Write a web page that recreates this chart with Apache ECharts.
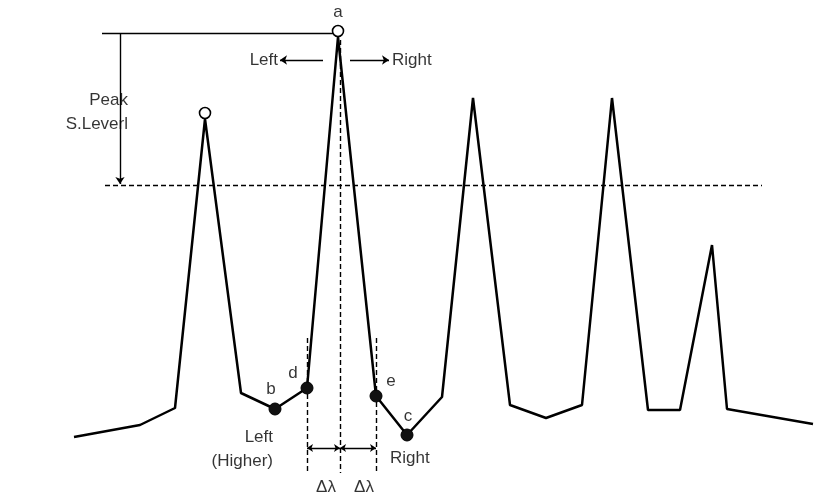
<!DOCTYPE html>
<html>
<head>
<meta charset="utf-8">
<script src="https://cdn.jsdelivr.net/npm/echarts@6/dist/echarts.min.js"></script>
<style>html,body{margin:0;padding:0;background:#fff}#c{width:815px;height:500px}</style>
</head>
<body>
<div id="c"></div>
<script>
// Spectrum trace (x = wavelength position, y = signal level)
var wavelength = [74, 140, 175, 205, 241, 275, 307, 338, 376, 407, 442, 473, 510, 546, 582, 612, 648, 680, 712, 727, 813];
var level      = [63, 75, 92, 381, 107, 91, 112, 463, 104, 65, 103, 402, 95, 82, 95, 402, 90, 90, 255, 91, 76];

// Peak markers (open circles) and sample points (filled)
var peakPts   = [[205, 381], [338, 463]];
var samplePts = [[275, 91, 'b'], [307, 112, 'd'], [376, 104, 'e'], [407, 65, 'c']];

var threshold = 315;     // dashed threshold level
var peakLevel = 467;     // top reference line
var deltaLeft = 307, center = 340, deltaRight = 376;

// Text annotations [x, y, text, align]
var texts = [
  [338, 488, 'a', 'center'],
  [128, 400, 'Peak', 'right'],
  [128, 376, 'S.Leverl', 'right'],
  [278, 440, 'Left', 'right'],
  [392, 440, 'Right', 'left'],
  [271, 111, 'b', 'center'],
  [293, 127, 'd', 'center'],
  [391, 119, 'e', 'center'],
  [408, 84, 'c', 'center'],
  [273, 63, 'Left', 'right'],
  [273, 39, '(Higher)', 'right'],
  [390, 42, 'Right', 'left'],
  [326, 13, '\u0394\u03bb', 'center'],
  [364, 13, '\u0394\u03bb', 'center']
];

var chart = echarts.init(document.getElementById('c'));
var solid = {color: '#000', width: 1.4, type: 'solid', opacity: 1};
var dashed = {color: '#000', width: 1.4, type: [5, 3], opacity: 1};
function seg(a, b) { return {coords: [a, b]}; }

chart.setOption({
  animation: false,
  backgroundColor: '#fff',
  grid: {left: 0, right: 0, top: 0, bottom: 0},
  xAxis: {type: 'value', min: 0, max: 815, show: false},
  yAxis: {type: 'value', min: 0, max: 500, show: false},
  series: [
    {
      type: 'line',
      data: wavelength.map(function (x, i) { return [x, level[i]]; }),
      symbol: 'none',
      lineStyle: {color: '#000', width: 2.5},
      z: 5
    },
    {
      type: 'lines', coordinateSystem: 'cartesian2d', symbol: 'none',
      lineStyle: dashed,
      data: [
        seg([105, threshold], [762, threshold]),
        seg([center, 460], [center, 27]),
        seg([deltaLeft, 162], [deltaLeft, 27]),
        seg([deltaRight, 162], [deltaRight, 27])
      ], z: 3
    },
    {
      type: 'lines', coordinateSystem: 'cartesian2d', symbol: 'none',
      lineStyle: solid,
      data: [seg([102, peakLevel], [334, peakLevel])], z: 3
    },
    {
      type: 'lines', coordinateSystem: 'cartesian2d', symbol: ['none', 'arrow'], symbolSize: 7,
      lineStyle: solid,
      data: [
        seg([120, peakLevel], [120, threshold + 1]),
        seg([323, 440], [280, 440]),
        seg([350, 440], [389, 440])
      ], z: 3
    },
    {
      type: 'lines', coordinateSystem: 'cartesian2d', symbol: ['arrow', 'arrow'], symbolSize: 6,
      lineStyle: solid,
      data: [
        seg([deltaLeft, 52], [center, 52]),
        seg([center, 52], [deltaRight, 52])
      ], z: 3
    },
    {
      type: 'scatter', data: peakPts, symbol: 'circle', symbolSize: 11,
      symbolOffset: [0, -6],
      itemStyle: {color: '#fff', borderColor: '#000', borderWidth: 1.6, opacity: 1}, z: 6
    },
    {
      type: 'scatter', data: samplePts.map(function (p) { return [p[0], p[1]]; }),
      symbol: 'circle', symbolSize: 12,
      itemStyle: {color: '#111', borderColor: '#000', borderWidth: 1, opacity: 1}, z: 6
    },
    {
      type: 'scatter', symbolSize: 0, z: 7,
      data: texts.map(function (t) {
        return {
          value: [t[0], t[1]],
          label: {
            show: true, position: 'inside', formatter: t[2], align: t[3],
            verticalAlign: 'middle', color: '#000', fontSize: 17,
            fontFamily: 'Liberation Sans, Arial, sans-serif'
          }
        };
      })
    }
  ]
});
</script>
</body>
</html>
